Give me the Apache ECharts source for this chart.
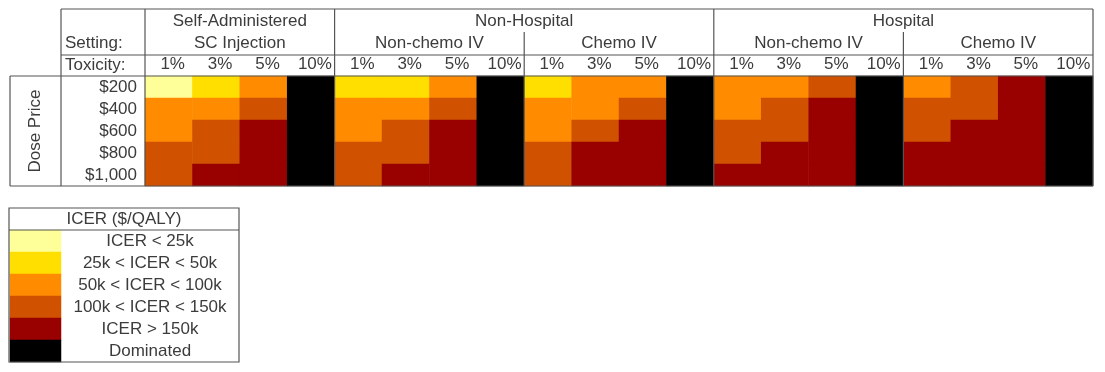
<!DOCTYPE html>
<html>
<head>
<meta charset="utf-8">
<script src="https://cdn.jsdelivr.net/npm/echarts@6/dist/echarts.min.js"></script>
<style>
  html, body { margin: 0; padding: 0; background: #fff; }
</style>
</head>
<body>
<div id="main" style="width: 1105px; height: 372px"></div>
<script>
// --- data ---
const toxicity = ['1%', '3%', '5%', '10%'];
const dosePrices = ['$200', '$400', '$600', '$800', '$1,000'];
const groupNames = ['Self-Administered', 'Non-Hospital', 'Hospital'];
const groupSpans = [1, 2, 2]; // how many settings each group covers
const settingNames = ['SC Injection', 'Non-chemo IV', 'Chemo IV', 'Non-chemo IV', 'Chemo IV'];
const icerBands = ['ICER < 25k', '25k < ICER < 50k', '50k < ICER < 100k', '100k < ICER < 150k', 'ICER > 150k', 'Dominated'];

// ICER band index per dose price (rows) x toxicity (cols)
const scInjection = [
  [0, 1, 2, 5],
  [2, 2, 3, 5],
  [2, 3, 4, 5],
  [3, 3, 4, 5],
  [3, 4, 4, 5]
];
const nonHospNonChemo = [
  [1, 1, 2, 5],
  [2, 2, 3, 5],
  [2, 3, 4, 5],
  [3, 3, 4, 5],
  [3, 4, 4, 5]
];
const nonHospChemo = [
  [1, 2, 2, 5],
  [2, 2, 3, 5],
  [2, 3, 4, 5],
  [3, 4, 4, 5],
  [3, 4, 4, 5]
];
const hospNonChemo = [
  [2, 2, 3, 5],
  [2, 3, 4, 5],
  [3, 3, 4, 5],
  [3, 4, 4, 5],
  [4, 4, 4, 5]
];
const hospChemo = [
  [2, 3, 4, 5],
  [3, 3, 4, 5],
  [3, 4, 4, 5],
  [4, 4, 4, 5],
  [4, 4, 4, 5]
];
const settingData = [scInjection, nonHospNonChemo, nonHospChemo, hospNonChemo, hospChemo];

// --- styles ---
const bandColors = ['#ffff99', '#ffdf00', '#ff8c00', '#d05200', '#990000', '#000000'];
const txt = '#3c3c3c';
const lineCol = '#555';
const fontFamily = 'Liberation Sans, Arial, sans-serif';
const fs = 17;

// layout
const L = 145, R = 1093, T = 76, B = 186;
const headTop = 9, row1 = 32, row2 = 55;
const labelLeft = 61, doseLeft = 10;
const colW = (R - L) / (settingNames.length * toxicity.length);
const setW = colW * toxicity.length;

const xCats = [];
settingNames.forEach((s, i) => toxicity.forEach(t => xCats.push(i + '|' + t)));

const cells = [];
settingData.forEach((grid, si) => {
  grid.forEach((row, r) => {
    row.forEach((v, c) => cells.push([si * toxicity.length + c, r, v]));
  });
});

const legendCells = icerBands.map((b, i) => [0, i, i]);

// --- decorations (table lines and header text) ---
const graphics = [];
const line = (x1, y1, x2, y2) => graphics.push({
  type: 'line', shape: {x1, y1, x2, y2},
  style: {stroke: lineCol, lineWidth: 1.2}, z: 100
});
const text = (s, x, y, align) => graphics.push({
  type: 'text', x, y,
  style: {text: s, fill: txt, font: fs + 'px ' + fontFamily, textAlign: align || 'center', textVerticalAlign: 'middle'},
  z: 100
});

line(labelLeft, headTop, R, headTop);
line(labelLeft, row2, R, row2);
line(doseLeft, T, R, T);
line(doseLeft, B, R, B);
line(doseLeft, T, doseLeft, B);
line(labelLeft, headTop, labelLeft, B);
line(L, headTop, L, B);
line(R, headTop, R, B);

let k = 0;
groupNames.forEach((g, gi) => {
  const x0 = L + k * setW;
  const x1 = x0 + groupSpans[gi] * setW;
  text(g, (x0 + x1) / 2, 21);
  if (gi > 0) line(x0, headTop, x0, B);
  for (let j = 1; j < groupSpans[gi]; j++) {
    line(x0 + j * setW, row1, x0 + j * setW, B);
  }
  k += groupSpans[gi];
});
settingNames.forEach((s, i) => text(s, L + (i + 0.5) * setW, 43));
text('Setting:', labelLeft + 4, 43, 'left');
text('Toxicity:', labelLeft + 4, 65, 'left');
graphics.push({
  type: 'text', x: 35, y: (T + B) / 2, rotation: Math.PI / 2,
  style: {text: 'Dose Price', fill: txt, font: fs + 'px ' + fontFamily, textAlign: 'center', textVerticalAlign: 'middle'},
  z: 100
});

// legend box
const lgL = 9, lgR = 239, lgT = 208, lgH = 230, lgB = 362;
graphics.push({
  type: 'rect', shape: {x: lgL, y: lgT, width: lgR - lgL, height: lgB - lgT},
  style: {fill: 'none', stroke: lineCol, lineWidth: 1.2}, z: 100
});
line(lgL, lgH, lgR, lgH);
text('ICER ($/QALY)', (lgL + lgR) / 2, 219);

const chart = echarts.init(document.getElementById('main'));
chart.setOption({
  animation: false,
  textStyle: {fontFamily},
  grid: [
    {left: L, top: T, width: R - L, height: B - T},
    {left: lgL + 1, top: lgH, width: 51, height: lgB - lgH}
  ],
  xAxis: [
    {
      type: 'category', gridIndex: 0, position: 'top', data: xCats,
      axisLine: {show: false}, axisTick: {show: false}, splitLine: {show: false},
      axisLabel: {
        margin: 3, color: txt, fontSize: fs, interval: 0, padding: [0, 0, 0, 8],
        formatter: v => v.split('|')[1]
      }
    },
    {
      type: 'category', gridIndex: 1, data: ['band'], show: false
    }
  ],
  yAxis: [
    {
      type: 'category', gridIndex: 0, data: dosePrices, inverse: true,
      axisLine: {show: false}, axisTick: {show: false}, splitLine: {show: false},
      axisLabel: {margin: 8, color: txt, fontSize: fs, interval: 0}
    },
    {
      type: 'category', gridIndex: 1, data: icerBands, inverse: true, position: 'right',
      axisLine: {show: false}, axisTick: {show: false}, splitLine: {show: false},
      axisLabel: {margin: 89, align: 'center', color: txt, fontSize: fs, interval: 0}
    }
  ],
  visualMap: {
    type: 'piecewise', show: false, seriesIndex: [0, 1], dimension: 2,
    pieces: bandColors.map((c, i) => ({value: i, color: c}))
  },
  series: [
    {
      type: 'heatmap', xAxisIndex: 0, yAxisIndex: 0, data: cells,
      itemStyle: {borderWidth: 0}, emphasis: {disabled: true}
    },
    {
      type: 'heatmap', xAxisIndex: 1, yAxisIndex: 1, data: legendCells,
      itemStyle: {borderWidth: 0}, emphasis: {disabled: true}
    }
  ],
  graphic: graphics
});
</script>
</body>
</html>
